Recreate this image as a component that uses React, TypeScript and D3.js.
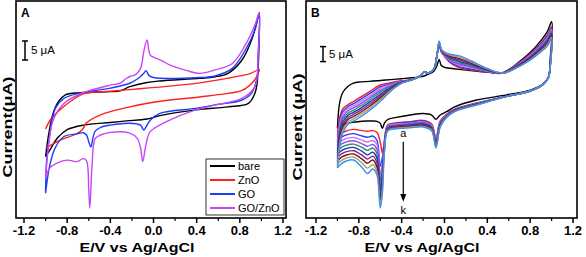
import React from 'react';
import * as d3 from 'd3';

// ---- shared axis ticks ----
const xMajor = [-1.2, -0.8, -0.4, 0.0, 0.4, 0.8, 1.2];
const xMinor = [-1.0, -0.6, -0.2, 0.2, 0.6, 1.0];

// ---- Panel A: [E (V), I (uA)] in scan order ----
const bareA: [number, number][] = [
  [-1.0, -14.9], [-0.97, -8.8], [-0.93, -3.5], [-0.88, -0.4], [-0.82, 1.3], [-0.68, 1.9], [-0.4, 2.2],
  [-0.31, 2.4], [-0.22, 3.5], [-0.06, 4.6], [0.06, 5.0], [0.43, 5.7], [0.57, 6.1], [0.69, 7.0],
  [0.82, 10.5], [0.91, 15.8], [0.97, 21.9], [0.98, 22.9],
  [0.975, 12], [0.96, 4.4], [0.94, 1.8], [0.88, -0.9], [0.69, -1.8], [0.39, -2.6], [0.06, -4.1],
  [-0.06, -5.0], [-0.25, -5.5], [-0.4, -5.9], [-0.65, -6.6], [-0.8, -7.8], [-0.89, -10.0],
  [-0.96, -13.1], [-1.0, -14.9],
];
const znoA: [number, number][] = [
  [-1.0, -7.6], [-0.95, -5.0], [-0.86, -2.4], [-0.75, 0.0], [-0.65, 1.6], [-0.4, 2.3], [-0.19, 2.8],
  [0.1, 3.5], [0.43, 4.5], [0.74, 6.0], [0.9, 7.0], [0.98, 8.0],
  [0.97, 7.0], [0.93, 5.0], [0.82, 2.5], [0.6, 1.4], [0.43, 0.8], [0.0, -0.6], [-0.25, -2.0],
  [-0.49, -3.9], [-0.62, -6.0], [-0.66, -7.8], [-0.72, -9.0], [-0.86, -10.5], [-1.0, -12.7],
];
const goA: [number, number][] = [
  [-1.0, -24.5], [-0.99, -15.8], [-0.96, -8.7], [-0.91, -2.2], [-0.83, 0.4], [-0.68, 1.8], [-0.4, 3.1],
  [-0.22, 4.4], [-0.14, 5.7], [-0.09, 7.0], [-0.07, 7.7], [-0.04, 6.4], [0.0, 5.9], [0.43, 5.9],
  [0.57, 6.3], [0.73, 8.3], [0.85, 13.1], [0.94, 18.4], [0.98, 22.8],
  [0.97, 12.0], [0.96, 6.1], [0.91, 1.8], [0.82, 0.0], [0.57, -1.3], [0.39, -2.2], [0.06, -3.5],
  [-0.03, -5.3], [-0.06, -6.6], [-0.09, -7.9], [-0.12, -6.6], [-0.22, -6.1], [-0.4, -6.6],
  [-0.49, -7.2], [-0.54, -8.2], [-0.56, -9.8], [-0.58, -12.3], [-0.6, -11.0], [-0.62, -9.2],
  [-0.65, -8.6], [-0.71, -8.9], [-0.83, -9.6], [-0.91, -12.5], [-0.96, -17.0], [-1.0, -24.5],
];
const goZnoA: [number, number][] = [
  [-1.0, -20.6], [-0.97, -11.4], [-0.93, -5.3], [-0.83, -0.9], [-0.65, 1.9], [-0.4, 3.9], [-0.31, 4.4],
  [-0.25, 5.7], [-0.21, 6.3], [-0.17, 6.6], [-0.12, 8.3], [-0.09, 12.7], [-0.06, 15.8], [-0.03, 11.8],
  [0.02, 11.0], [0.08, 10.3], [0.15, 9.2], [0.31, 7.7], [0.43, 7.0], [0.57, 7.9], [0.73, 9.6],
  [0.85, 14.4], [0.94, 19.7], [0.98, 22.9],
  [0.97, 12.0], [0.94, 3.5], [0.82, 0.4], [0.57, -1.3], [0.49, -1.9], [0.39, -2.6], [0.12, -5.7],
  [-0.03, -8.3], [-0.07, -11.8], [-0.1, -16.2], [-0.12, -12.6], [-0.15, -10.1], [-0.22, -8.7],
  [-0.4, -8.5], [-0.49, -9.2], [-0.54, -10.1], [-0.57, -17.5], [-0.59, -28.4], [-0.6, -23.6],
  [-0.62, -16.0], [-0.65, -15.4], [-0.71, -16.2], [-0.8, -15.8], [-0.89, -16.5], [-0.96, -17.8],
  [-1.0, -20.6],
];
const legendA = ['bare', 'ZnO', 'GO', 'GO/ZnO'];
const colorsA = ['#000000', '#ff2020', '#1e3cff', '#c846f5'];

// ---- Panel B: potentials of the scan (forward then reverse) ----
const eForward = [-1.0, -0.98, -0.95, -0.9, -0.85, -0.8, -0.7, -0.6, -0.5, -0.4, -0.3, -0.22, -0.19, -0.15,
  -0.1, -0.07, -0.05, -0.03, 0.0, 0.05, 0.14, 0.25, 0.4, 0.55, 0.7, 0.8, 0.9, 0.96, 1.0];
const eReverse = [0.99, 0.97, 0.92, 0.8, 0.58, 0.3, 0.1, 0.02, -0.04, -0.08, -0.12, -0.2, -0.32, -0.45,
  -0.53, -0.56, -0.58, -0.6, -0.63, -0.67, -0.72, -0.77, -0.85, -0.93, -0.98, -1.0];

// currents (uA) for scans a..k
const scanA = [-9.4, -1.1, 2.5, 4.6, 5.6, 6.0, 6.2, 6.5, 6.8, 7.1, 7.4, 7.8, 8.0, 8.6, 9.6, 11.5, 13.5, 11.5, 10.9, 10.6, 10.2, 9.8, 9.3, 9.2, 12.8, 15.8, 19.8, 22.8, 26.1,
  12, 7.5, 5.4, 3.3, 1.7, 0.0, -2.2, -3.9, -5.0, -6.4, -5.0, -4.5, -5.0, -5.8, -6.5, -7.6, -9.4, -7.8, -7.1, -7.0, -7.0, -7.1, -7.4, -7.9, -8.6, -9.4];
const scanB = [-12.3, -6.0, -3.0, -1.5, -0.5, 0.6, 2.8, 5.0, 5.8, 6.4, 6.8, 8.2, 9.3, 9.0, 10.2, 15.0, 18.0, 16.0, 14.5, 12.5, 10.7, 10.0, 9.3, 9.0, 12.5, 15.3, 19.0, 21.7, 24.4,
  15, 7.5, 5.2, 3.0, 1.2, -1.0, -3.0, -4.8, -7.0, -12.8, -8.0, -6.8, -7.2, -7.6, -8.3, -14.0, -17.8, -14.0, -10.8, -10.2, -10.4, -10.2, -9.8, -10.5, -11.6, -12.3];
const scanC = [-14.0, -7.2, -3.9, -2.2, -1.2, -0.1, 2.1, 4.4, 5.5, 6.3, 6.8, 8.2, 9.3, 9.0, 10.2, 15.0, 18.2, 16.1, 14.7, 12.8, 11.1, 10.3, 9.4, 9.0, 12.4, 15.1, 18.7, 21.3, 24.0,
  14.7, 7.5, 5.2, 3.0, 1.2, -1.1, -3.1, -4.9, -7.2, -13.2, -8.3, -7.0, -7.4, -7.8, -8.5, -13.0, -19.0, -22.0, -13.5, -12.0, -12.4, -12.0, -11.2, -11.8, -12.9, -14.0];
const scanD = [-15.3, -8.3, -4.8, -2.9, -1.9, -0.9, 1.4, 3.8, 5.2, 6.2, 6.8, 8.2, 9.3, 9.0, 10.2, 15.0, 18.4, 16.2, 14.8, 13.1, 11.6, 10.7, 9.6, 9.0, 12.2, 14.9, 18.3, 20.9, 23.5,
  14.3, 7.5, 5.2, 3.0, 1.2, -1.2, -3.2, -5.0, -7.4, -13.5, -8.5, -7.3, -7.7, -8.0, -8.8, -13.5, -20.5, -25.0, -15.0, -13.5, -14.0, -13.4, -12.5, -13.0, -14.1, -15.3];
const scanE = [-16.7, -9.4, -5.7, -3.6, -2.6, -1.6, 0.7, 3.2, 4.9, 6.1, 6.8, 8.2, 9.3, 9.0, 10.2, 15.0, 18.6, 16.3, 15.0, 13.4, 12.0, 11.0, 9.7, 9.0, 12.1, 14.6, 18.0, 20.5, 23.1,
  14.0, 7.5, 5.2, 3.0, 1.2, -1.2, -3.3, -5.1, -7.7, -13.9, -8.8, -7.5, -7.9, -8.3, -9.0, -14.0, -22.0, -27.0, -16.5, -14.8, -15.4, -14.6, -13.6, -14.1, -15.2, -16.7];
const scanF = [-17.7, -10.4, -6.5, -4.4, -3.4, -2.3, 0.0, 2.6, 4.6, 6.0, 6.8, 8.2, 9.3, 9.0, 10.2, 15.0, 18.8, 16.4, 15.2, 13.7, 12.5, 11.3, 9.8, 9.0, 11.9, 14.4, 17.7, 20.1, 22.7,
  13.7, 7.5, 5.2, 3.0, 1.2, -1.3, -3.4, -5.2, -7.9, -14.2, -9.0, -7.8, -8.1, -8.5, -9.2, -14.5, -23.5, -29.0, -18.0, -16.0, -16.8, -15.8, -14.7, -15.2, -16.3, -17.7];
const scanG = [-18.7, -11.5, -7.4, -5.1, -4.1, -3.1, -0.7, 1.9, 4.2, 5.9, 6.8, 8.2, 9.3, 9.0, 10.2, 15.0, 19.0, 16.6, 15.3, 14.1, 12.9, 11.7, 10.0, 9.0, 11.8, 14.2, 17.3, 19.6, 22.2,
  13.3, 7.5, 5.2, 3.0, 1.2, -1.4, -3.4, -5.4, -8.1, -14.6, -9.3, -8.0, -8.4, -8.7, -9.4, -15.0, -25.0, -30.5, -19.5, -17.4, -18.3, -17.1, -15.8, -16.3, -17.4, -18.7];
const scanH = [-19.7, -12.6, -8.3, -5.8, -4.8, -3.8, -1.4, 1.3, 3.9, 5.8, 6.8, 8.2, 9.3, 9.0, 10.2, 15.0, 19.2, 16.7, 15.5, 14.4, 13.4, 12.0, 10.1, 9.0, 11.6, 14.0, 17.0, 19.2, 21.8,
  13.0, 7.5, 5.2, 3.0, 1.2, -1.5, -3.5, -5.5, -8.3, -14.9, -9.5, -8.3, -8.6, -8.9, -9.6, -15.5, -26.5, -32.0, -21.0, -18.7, -19.7, -18.4, -16.9, -17.4, -18.5, -19.7];
const scanI = [-20.7, -13.7, -9.2, -6.5, -5.5, -4.5, -2.1, 0.7, 3.6, 5.7, 6.8, 8.2, 9.3, 9.0, 10.2, 15.0, 19.3, 16.8, 15.7, 14.7, 13.8, 12.3, 10.2, 9.0, 11.5, 13.8, 16.7, 18.8, 21.4,
  12.7, 7.5, 5.2, 3.0, 1.2, -1.5, -3.6, -5.6, -8.6, -15.3, -9.8, -8.5, -8.8, -9.2, -9.9, -16.0, -28.0, -33.5, -22.5, -20.0, -21.1, -19.7, -18.0, -18.5, -19.6, -20.7];
const scanJ = [-21.7, -14.8, -10.1, -7.3, -6.3, -5.3, -2.8, 0.1, 3.3, 5.6, 6.8, 8.2, 9.3, 9.0, 10.2, 15.0, 19.5, 16.9, 15.8, 15.0, 14.3, 12.7, 10.4, 9.0, 11.3, 13.5, 16.3, 18.4, 20.9,
  12.3, 7.5, 5.2, 3.0, 1.2, -1.6, -3.7, -5.7, -8.8, -15.6, -10.0, -8.8, -9.1, -9.4, -10.1, -16.5, -29.5, -35.0, -24.0, -21.5, -22.7, -21.0, -19.0, -19.5, -20.7, -21.7];
const scanK = [-22.7, -16.0, -11.0, -8.0, -7.0, -6.0, -3.5, -0.5, 3.0, 5.6, 6.8, 8.2, 9.3, 9.0, 10.2, 15.0, 19.7, 17.0, 16.0, 15.3, 14.7, 13.0, 10.5, 9.0, 11.2, 13.3, 16.0, 18.0, 20.5,
  12.0, 7.5, 5.2, 3.0, 1.2, -1.7, -3.8, -5.8, -9.0, -16.0, -10.3, -9.0, -9.3, -9.6, -10.3, -17.0, -31.0, -36.0, -25.0, -23.0, -24.5, -22.5, -20.0, -20.5, -21.8, -22.7];
const colorsB = ['#000000', '#ff1a1a', '#1f3dff', '#d873f0', '#8a4af0', '#2a8c7a', '#2233aa', '#7a2a8a', '#7a1020', '#a8a070', '#3a8ff0'];

const scansB = [scanA, scanB, scanC, scanD, scanE, scanF, scanG, scanH, scanI, scanJ, scanK];
const potentialsB = [...eForward, ...eReverse];

const FONT = 'Arial, "Liberation Sans", Helvetica, sans-serif';

type Series = { pts: [number, number][]; color: string };

const Panel = ({ left, right, xRange, yDomain, series, letter, yTitle, yTitleLen, xTitleX, bar, children }: any) => {
  const top = 1, bottom = 218;
  const x = d3.scaleLinear().domain([-1.2, 1.2]).range(xRange);
  const y = d3.scaleLinear().domain(yDomain).range([bottom, top]);
  const line = d3.line<[number, number]>()
    .x(d => x(d[0]))
    .y(d => y(d[1]))
    .curve(d3.curveCatmullRom.alpha(0.5));

  return (
    <g>
      <defs>
        <clipPath id={`clip-${letter}`}>
          <rect x={left} y={top} width={right - left} height={bottom - top} />
        </clipPath>
      </defs>
      <g clipPath={`url(#clip-${letter})`}>
        {series.map((s: Series, i: number) => (
          <path key={i} d={line(s.pts) || ''} fill="none" stroke={s.color} strokeWidth={1.4} strokeLinejoin="round" />
        ))}
      </g>
      <rect x={left} y={top} width={right - left} height={bottom - top} fill="none" stroke="#000" strokeWidth={1.6} />
      {xMajor.map(t => (
        <g key={t}>
          <line x1={x(t)} x2={x(t)} y1={bottom} y2={bottom + 5} stroke="#000" strokeWidth={1.5} />
          <text x={x(t)} y={235} textAnchor="middle" fontFamily={FONT} fontWeight="bold" fontSize={13}>
            {t.toFixed(1)}
          </text>
        </g>
      ))}
      {xMinor.map(t => (
        <line key={t} x1={x(t)} x2={x(t)} y1={bottom} y2={bottom + 3} stroke="#000" strokeWidth={1.2} />
      ))}
      <text x={xTitleX} y={252} textAnchor="middle" fontFamily={FONT} fontWeight="bold" fontSize={12.5}
        textLength={115} lengthAdjust="spacingAndGlyphs">E/V vs Ag/AgCl</text>
      <text transform={`translate(${left - 4},${127}) rotate(-90)`} textAnchor="middle" fontFamily={FONT}
        fontWeight="bold" fontSize={12.5} textLength={yTitleLen} lengthAdjust="spacingAndGlyphs">{yTitle}</text>
      <text x={left + 5} y={17} fontFamily={FONT} fontWeight="bold" fontSize={12}>{letter}</text>
      {/* 5 uA scale bar */}
      <g>
        <line x1={bar.x} x2={bar.x} y1={y(bar.top)} y2={y(bar.top - 5)} stroke="#000" strokeWidth={1.5} />
        <line x1={bar.x - 3} x2={bar.x + 3} y1={y(bar.top)} y2={y(bar.top)} stroke="#000" strokeWidth={1.5} />
        <line x1={bar.x - 3} x2={bar.x + 3} y1={y(bar.top - 5)} y2={y(bar.top - 5)} stroke="#000" strokeWidth={1.5} />
        <text x={bar.x + 6} y={(y(bar.top) + y(bar.top - 5)) / 2 + 4} fontFamily={FONT} fontSize={11.5}>5 μA</text>
      </g>
      {children && children(x, y)}
    </g>
  );
};

export default function App() {
  const seriesA: Series[] = [bareA, znoA, goA, goZnoA].map((pts, i) => ({ pts, color: colorsA[i] }));
  const seriesB: Series[] = scansB.map((cur, i) => ({
    pts: potentialsB.map((e, j) => [e, cur[j]] as [number, number]),
    color: colorsB[i],
  }));

  return (
    <svg width={586} height={257} style={{ position: 'absolute', left: 0, top: 0, background: '#fff' }}>
      <rect width={586} height={257} fill="#fff" />
      <Panel left={16} right={286} xRange={[24, 283]} yDomain={[-31, 26]} series={seriesA} letter="A"
        yTitle="Current(μA)" yTitleLen={101} xTitleX={137} bar={{ x: 25, top: 15.5 }}>
        {() => (
          <g>
            <rect x={206} y={159} width={78} height={56} fill="#fff" stroke="#000" strokeWidth={0.8} />
            {legendA.map((name, i) => (
              <g key={name}>
                <line x1={210} x2={235} y1={166 + i * 14} y2={166 + i * 14} stroke={colorsA[i]} strokeWidth={2} />
                <text x={238} y={170 + i * 14} fontFamily={FONT} fontSize={11}>{name}</text>
              </g>
            ))}
          </g>
        )}
      </Panel>
      <Panel left={306} right={577} xRange={[316, 573]} yDomain={[-39.33, 33]} series={seriesB} letter="B"
        yTitle="Current (μA)" yTitleLen={107} xTitleX={422} bar={{ x: 323, top: 17.8 }}>
        {(x: any, y: any) => (
          <g>
            <text x={x(-0.385)} y={y(-12.4)} textAnchor="middle" fontFamily={FONT} fontSize={11}>a</text>
            <line x1={x(-0.385)} x2={x(-0.385)} y1={y(-13.9)} y2={y(-31.5)} stroke="#000" strokeWidth={1.2} />
            <path d={`M${x(-0.385) - 3},${y(-31.3)} L${x(-0.385) + 3},${y(-31.3)} L${x(-0.385)},${y(-33.9)} Z`} fill="#000" />
            <text x={x(-0.385)} y={y(-38)} textAnchor="middle" fontFamily={FONT} fontSize={11}>k</text>
          </g>
        )}
      </Panel>
    </svg>
  );
}
